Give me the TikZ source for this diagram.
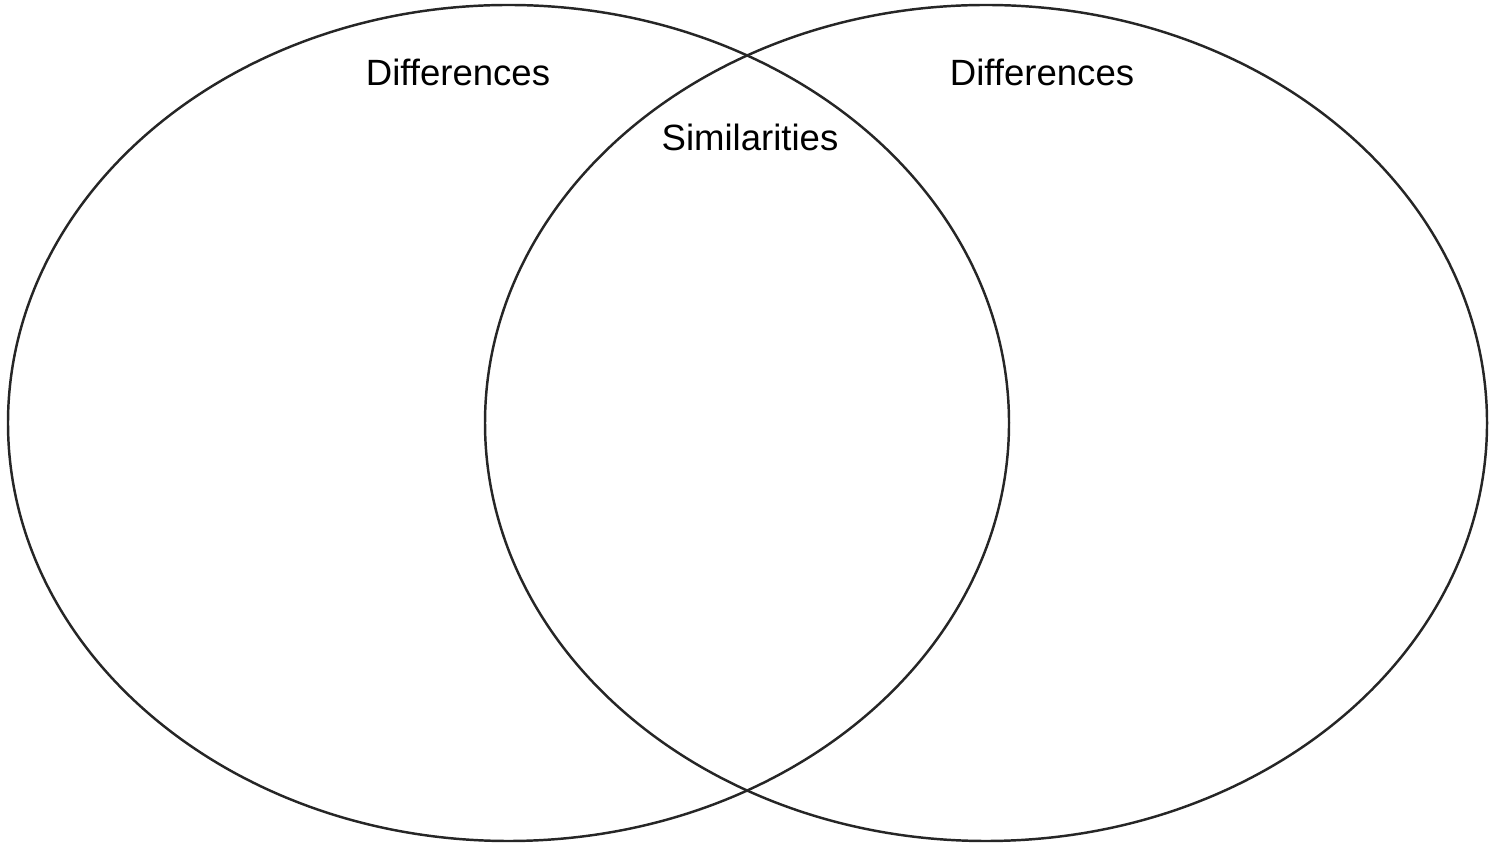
\documentclass[tikz,border=0pt]{standalone}
\usepackage{fontspec}
\setmainfont{Liberation Sans}
\begin{document}
\begin{tikzpicture}[font=\fontsize{10.4}{12}\selectfont, line width=0.7pt]
  \useasboundingbox (0,0) rectangle (14.99,-8.44);
  % the two sets
  \coordinate (leftc) at (5.085,-4.23);
  \coordinate (rightc) at (9.86,-4.23);
  \draw[black!85] (leftc) ellipse [x radius=5.005, y radius=4.18];
  \draw[black!85] (rightc) ellipse [x radius=5.01, y radius=4.18];
  % labels
  \node (diffleft) at (4.58,-0.72) {Differences};
  \node (diffright) at (10.42,-0.72) {Differences};
  \node (similar) at (7.50,-1.37) {Similarities};
\end{tikzpicture}
\end{document}
